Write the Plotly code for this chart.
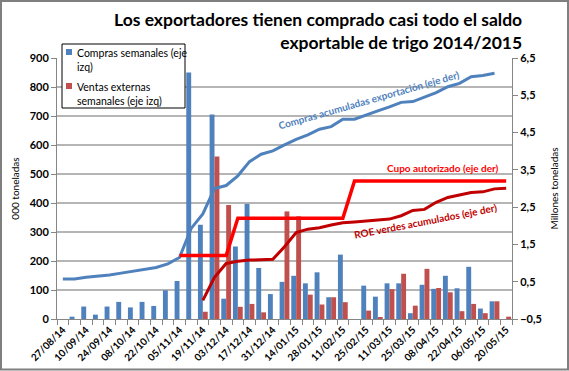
import plotly.graph_objects as go

fechas = ["27/08/14", "03/09/14", "10/09/14", "17/09/14", "24/09/14", "01/10/14", "08/10/14",
          "15/10/14", "22/10/14", "29/10/14", "05/11/14", "12/11/14", "19/11/14", "26/11/14",
          "03/12/14", "10/12/14", "17/12/14", "24/12/14", "31/12/14", "07/01/15", "14/01/15",
          "21/01/15", "28/01/15", "04/02/15", "11/02/15", "18/02/15", "25/02/15", "04/03/15",
          "11/03/15", "18/03/15", "25/03/15", "01/04/15", "08/04/15", "15/04/15", "22/04/15",
          "29/04/15", "06/05/15", "13/05/15", "20/05/15"]

compras_sem = [None, 8, 43, 15, 43, 59, 40, 59, 45, 99, 131, 850, 325, 705, 70, 250, 397, 176,
               86, 128, 149, 123, 161, 75, 222, None, 115, 77, 123, 123, 20, 118, 104, 149, 106,
               180, 36, 61, None]
ventas_sem = [None, None, None, None, None, None, None, None, None, None, None, None, 25, 560, 393,
              42, 52, 23, None, 371, 354, 84, 50, 75, 58, None, 29, 6, 103, 156, 46, 173, 107, 92,
              27, 52, 20, 61, 8]
compras_acum = [0.57, 0.57, 0.62, 0.64, 0.68, 0.73, 0.78, 0.83, 0.88, 0.98, 1.15, 1.93, 2.32, 3.0,
                3.08, 3.34, 3.72, 3.92, 4.01, 4.17, 4.32, 4.44, 4.59, 4.66, 4.86, 4.86, 4.98, 5.08,
                5.19, 5.31, 5.33, 5.46, 5.57, 5.73, 5.82, 6.0, 6.03, 6.09, None]
cupo = [None] * 10 + [1.2] * 5 + [2.2] * 10 + [3.2] * 14
roe_acum = [None] * 12 + [0.0, 0.62, 0.99, 1.05, 1.08, 1.10, 1.10, 1.44, 1.82, 1.91, 1.95, 2.02,
                         2.08, 2.10, 2.12, 2.15, 2.18, 2.27, 2.41, 2.44, 2.63, 2.76, 2.83, 2.89,
                         2.91, 2.99, 3.01]

left_ticks = list(range(0, 901, 100))
right_ticks = [-0.5, 0.5, 1.5, 2.5, 3.5, 4.5, 5.5, 6.5]
legend_names = ["Compras semanales (eje<br>izq)", "Ventas externas<br>semanales (eje izq)"]
title_text = "Los exportadores tienen comprado casi todo el saldo<br>exportable de trigo 2014/2015"

FONT = "Lato"
BLUE = "#4F81BD"
RED = "#C0504D"
x = list(range(len(fechas)))

# plot area in pixels
L, R, T, B = 57, 57, 58, 52
W, H = 569, 371
PW, PH = W - L - R, H - T - B


def px(xp):
    return (xp - L) / PW


def py(yp):
    return (H - B - yp) / PH


fig = go.Figure()
fig.add_trace(go.Bar(x=x, y=compras_sem, name=legend_names[0],
                     marker=dict(color=BLUE, line=dict(width=0)), yaxis="y", showlegend=False))
fig.add_trace(go.Bar(x=x, y=ventas_sem, name=legend_names[1],
                     marker=dict(color=RED, line=dict(width=0)), yaxis="y", showlegend=False))
fig.add_trace(go.Scatter(x=x, y=compras_acum, mode="lines", line=dict(color=BLUE, width=3),
                         yaxis="y2", showlegend=False))
fig.add_trace(go.Scatter(x=x, y=cupo, mode="lines", line=dict(color="#FF0000", width=3.5),
                         yaxis="y2", showlegend=False))
fig.add_trace(go.Scatter(x=x, y=roe_acum, mode="lines", line=dict(color="#C00000", width=3),
                         yaxis="y2", showlegend=False))

axis_col = "#868686"

# manual legend (box, swatches, texts)
shapes = [
    dict(type="rect", xref="paper", yref="paper", x0=px(1), x1=px(W - 1), y0=py(H - 1.5), y1=py(1),
         line=dict(color="#7F7F7F", width=2), fillcolor="rgba(0,0,0,0)", layer="below"),
    dict(type="rect", xref="paper", yref="paper", x0=px(62), x1=px(185), y0=py(108), y1=py(44),
         line=dict(color="#000000", width=1), fillcolor="white", layer="above"),
    dict(type="rect", xref="paper", yref="paper", x0=px(66), x1=px(72), y0=py(55), y1=py(49),
         line=dict(width=0), fillcolor=BLUE, layer="above"),
    dict(type="rect", xref="paper", yref="paper", x0=px(66), x1=px(72), y0=py(89), y1=py(83),
         line=dict(width=0), fillcolor=RED, layer="above"),
]
annotations = [
    dict(text=title_text, x=px(524), y=py(7), xref="paper", yref="paper", xanchor="right",
         yanchor="top", align="right", showarrow=False,
         font=dict(family=FONT, size=17.5, weight="bold", color="#000000")),
    dict(text=legend_names[0], x=px(75), y=py(45), xref="paper", yref="paper", xanchor="left",
         yanchor="top", align="left", showarrow=False, font=dict(family=FONT, size=10.5)),
    dict(text=legend_names[1], x=px(75), y=py(79), xref="paper", yref="paper", xanchor="left",
         yanchor="top", align="left", showarrow=False, font=dict(family=FONT, size=10.5)),
    dict(text="Compras acumuladas exportación (eje der)", x=26.2, y=5.37, xref="x", yref="y2",
         showarrow=False, textangle=-16,
         font=dict(family=FONT, size=10, weight="bold", color=BLUE)),
    dict(text="Cupo autorizado (eje der)", x=32.6, y=3.55, xref="x", yref="y2",
         showarrow=False, font=dict(family=FONT, size=10, weight="bold", color="#FF0000")),
    dict(text="ROE verdes acumulados (eje der)", x=31.1, y=2.13, xref="x", yref="y2",
         showarrow=False, textangle=-11,
         font=dict(family=FONT, size=10, weight="bold", color="#C00000")),
]

fig.update_layout(
    width=W, height=H,
    margin=dict(l=L, r=R, t=T, b=B, autoexpand=False),
    paper_bgcolor="white", plot_bgcolor="white",
    font=dict(family=FONT, color="#000000"),
    separators=",.",
    barmode="group", bargap=0.16, bargroupgap=0.0,
    showlegend=False,
    xaxis=dict(range=[-0.5, len(fechas) - 0.5], tickmode="array", tickvals=x[::2],
               ticktext=fechas[::2], tickangle=-45, ticks="", showgrid=False,
               showline=True, linecolor=axis_col, linewidth=1,
               tickfont=dict(family=FONT, size=10, weight="bold"),
               minor=dict(tickmode="linear", tick0=-0.5, dtick=1, ticks="outside",
                          ticklen=5, tickcolor=axis_col, showgrid=False),
               zeroline=False, automargin=False),
    yaxis=dict(range=[0, 900], tickvals=left_ticks, showgrid=True, gridcolor="#B5B5B5",
               gridwidth=1.5, showline=True, linecolor=axis_col, ticks="outside", ticklen=5,
               tickcolor=axis_col, tickfont=dict(family=FONT, size=11, weight="bold"),
               title=dict(text="000 toneladas", font=dict(family=FONT, size=10), standoff=8),
               zeroline=False, automargin=False),
    yaxis2=dict(range=[-0.5, 6.5], tickvals=right_ticks, tickformat=".1f", overlaying="y",
                side="right", showgrid=False, showline=True, linecolor=axis_col, ticks="outside",
                ticklen=5, tickcolor=axis_col, tickfont=dict(family=FONT, size=11, weight="bold"),
                title=dict(text="Millones toneladas", font=dict(family=FONT, size=10), standoff=10),
                zeroline=False, automargin=False),
    annotations=annotations,
    shapes=shapes,
)

fig.write_html("out.html", config={"displayModeBar": False},
               post_script="document.body.style.margin='0';")
